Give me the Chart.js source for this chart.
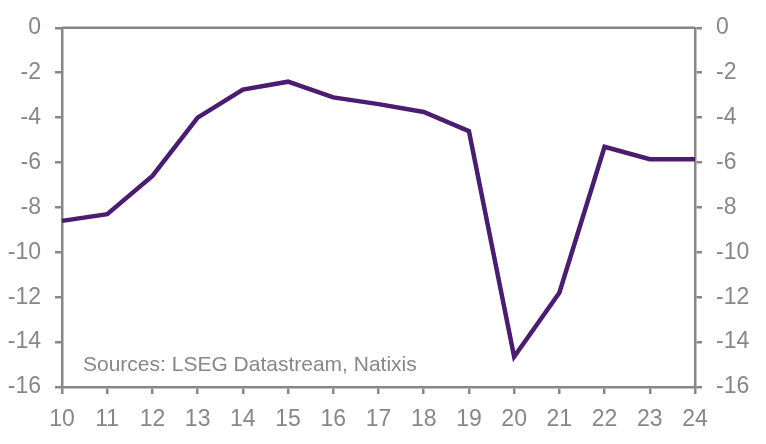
<!DOCTYPE html>
<html>
<head>
<meta charset="utf-8">
<script src="https://cdn.jsdelivr.net/npm/chart.js@4"></script>
<style>
html,body{margin:0;padding:0;background:#fff;}
#wrap{width:766px;height:444px;}
</style>
</head>
<body>
<div id="wrap"><canvas id="c" width="766" height="444"></canvas></div>
<script>
const categories = ['10','11','12','13','14','15','16','17','18','19','20','21','22','23','24'];
const values = [-8.6, -8.3, -6.6, -4.0, -2.75, -2.4, -3.1, -3.4, -3.75, -4.6, -14.65, -11.8, -5.3, -5.85, -5.85];
const yTicks = [0, -2, -4, -6, -8, -10, -12, -14, -16];
const sourceText = 'Sources: LSEG Datastream, Natixis';

const GRAY = '#878787';
const FONT = "'Liberation Sans', Arial, sans-serif";

const frame = {
  id: 'frame',
  afterDraw(chart) {
    const {ctx, chartArea: a} = chart;
    ctx.save();
    ctx.strokeStyle = GRAY;
    ctx.lineWidth = 2.5;
    ctx.beginPath();
    ctx.moveTo(a.left, a.top);
    ctx.lineTo(a.right, a.top);
    ctx.stroke();
    ctx.fillStyle = GRAY;
    ctx.font = '21px ' + FONT;
    ctx.textBaseline = 'middle';
    ctx.fillText(sourceText, a.left + 21, 365);
    ctx.restore();
  }
};

const yCommon = {
  type: 'linear', min: -16, max: 0,
  afterBuildTicks(s) { s.ticks = yTicks.map(v => ({value: v})); },
  grid: {drawOnChartArea: false, drawTicks: true, tickLength: 7, color: GRAY, lineWidth: 2.5},
  border: {display: true, color: GRAY, width: 2.5},
  ticks: {color: GRAY, font: {family: FONT, size: 23}, padding: 14}
};

new Chart(document.getElementById('c'), {
  type: 'line',
  data: {
    labels: categories,
    datasets: [{
      data: values,
      borderColor: '#4b1d70',
      borderWidth: 4.5,
      pointRadius: 0,
      tension: 0,
      fill: false
    }]
  },
  options: {
    responsive: false,
    animation: false,
    layout: {padding: {top: 24, left: 0, right: 0, bottom: 0}},
    plugins: {legend: {display: false}, tooltip: {enabled: false}},
    scales: {
      x: {
        type: 'category', offset: false,
        grid: {drawOnChartArea: false, drawTicks: true, tickLength: 7, color: GRAY, lineWidth: 2.5},
        border: {display: true, color: GRAY, width: 2.5},
        ticks: {color: GRAY, font: {family: FONT, size: 23}, padding: 12, maxRotation: 0, autoSkip: false},
        afterFit(s) { s.height = 57; }
      },
      y: Object.assign({}, yCommon, {position: 'left', afterFit(s) { s.width = 62; }}),
      y2: Object.assign({}, yCommon, {position: 'right', afterFit(s) { s.width = 71; }, ticks: Object.assign({}, yCommon.ticks, {padding: 14})})
    }
  },
  plugins: [frame]
});
</script>
</body>
</html>
